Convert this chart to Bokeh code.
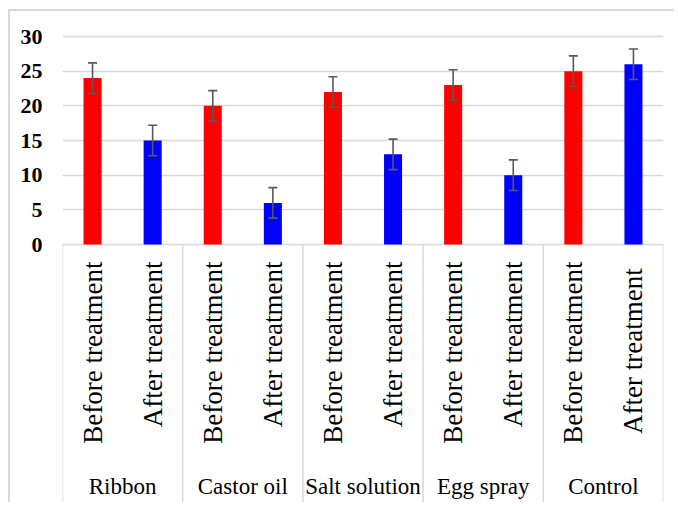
import numpy as np
from bokeh.plotting import figure
from bokeh.models import ColumnDataSource, Range1d, FixedTicker, Whisker, TeeHead
from bokeh.core.properties import value
from bokeh.embed import file_html
from bokeh.resources import INLINE

# ---- data ----
treatments = ["Ribbon", "Castor oil", "Salt solution", "Egg spray", "Control"]
stage_labels = ["Before treatment", "After treatment",
                "Before treatment", "After treatment",
                "Before treatment", "After treatment",
                "Before treatment", "After treatment",
                "Before treatment", "After  treatment"]
before = [24, 20, 22, 23, 25]
after = [15, 6, 13, 10, 26]
before_err = [2.2, 2.2, 2.2, 2.2, 2.2]
after_err = [2.2, 2.2, 2.2, 2.2, 2.2]
y_ticks = [0, 5, 10, 15, 20, 25, 30]
stage_colors = ["#FF0000", "#0000FF"]

# ---- build source ----
n = len(treatments)
xs, tops, uppers, lowers, cols = [], [], [], [], []
for i in range(n):
    for j, (v, e) in enumerate([(before[i], before_err[i]), (after[i], after_err[i])]):
        xs.append(2 * i + j + 0.5)
        tops.append(v)
        uppers.append(v + e)
        lowers.append(v - e)
        cols.append(stage_colors[j])
src = ColumnDataSource(dict(x=xs, top=tops, upper=uppers, lower=lowers,
                            color=cols, label=stage_labels))

Y_TOP = 30.29
Y_BOTTOM = -37.5
GRID = "#d9d9d9"

p = figure(width=666, height=493, output_backend="svg", toolbar_location=None,
           x_range=Range1d(0, 2 * n), y_range=Range1d(Y_BOTTOM, Y_TOP),
           x_axis_type=None,
           min_border_left=52, min_border_right=13, min_border_top=23,
           min_border_bottom=0)
p.styles = {"border-left": "2px solid #d9d9d9", "border-top": "2px solid #d9d9d9",
            "margin-left": "8px", "margin-top": "9px"}
p.outline_line_color = None
p.background_fill_color = "white"
p.border_fill_color = "white"

p.xgrid.visible = False
p.ygrid.ticker = FixedTicker(ticks=y_ticks)
p.ygrid.grid_line_color = GRID
p.ygrid.grid_line_width = 1.5

ax = p.yaxis[0]
ax.ticker = FixedTicker(ticks=y_ticks)
ax.bounds = (0, 30)
ax.axis_line_color = None
ax.major_tick_line_color = None
ax.minor_tick_line_color = None
ax.major_tick_out = 0
ax.major_tick_in = 0
ax.major_label_standoff = 20
ax.major_label_text_font = "Liberation Serif"
ax.major_label_text_font_style = "bold"
ax.major_label_text_font_size = "22px"
ax.major_label_text_color = "#000000"

# group separators below the axis
bounds = [2 * i for i in range(n + 1)]
p.segment(x0=bounds, y0=[0] * len(bounds), x1=bounds, y1=[Y_BOTTOM] * len(bounds),
          line_color=GRID, line_width=1.5)

# bars
p.vbar(x="x", top="top", bottom=0, width=0.3, fill_color="color",
       line_color=None, source=src)

# error bars (drawn above the bars)
p.add_layout(Whisker(base="x", upper="upper", lower="lower", source=src,
                     level="overlay",
                     line_color="#595959", line_width=1.6,
                     upper_head=TeeHead(size=9, line_color="#595959", line_width=1.6),
                     lower_head=TeeHead(size=9, line_color="#595959", line_width=1.6)))

# sub-category labels (rotated)
p.text(x="x", y=0, text="label", source=src, angle=np.pi / 2,
       text_align="right", text_baseline="middle", y_offset=17,
       text_font=value("Liberation Serif"), text_font_size="27px",
       text_color="#000000")

# group labels
p.text(x=[2 * i + 1 for i in range(n)], y=[0] * n, text=treatments,
       text_align="center", text_baseline="middle", y_offset=242,
       text_font=value("Liberation Serif"), text_font_size="23px",
       text_color="#000000")

open("out.html", "w").write(file_html(p, INLINE))
